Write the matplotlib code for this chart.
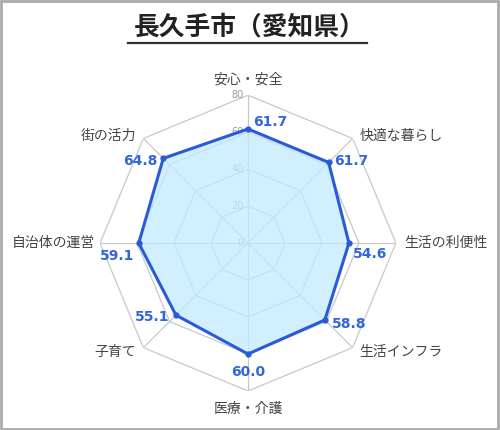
import numpy as np
import matplotlib.pyplot as plt
from matplotlib.lines import Line2D
from matplotlib.patches import Rectangle

plt.rcParams['font.family'] = ['Noto Sans CJK JP', 'DejaVu Sans']

title = '長久手市（愛知県）'
categories = ['安心・安全', '快適な暮らし', '生活の利便性', '生活インフラ',
              '医療・介護', '子育て', '自治体の運営', '街の活力']
scores = [61.7, 61.7, 54.6, 58.8, 60.0, 55.1, 59.1, 64.8]
grid_levels = [20, 40, 60, 80]
tick_labels = ['0', '20', '40', '60', '80']
r_max = 80

n = len(categories)
angles = np.arange(n) * 2 * np.pi / n

fig = plt.figure(figsize=(5, 4.3), dpi=100)
ax = fig.add_axes([0.2, 0.0907, 0.592, 0.688], projection='polar')
ax.set_theta_offset(np.pi / 2)
ax.set_theta_direction(-1)
ax.set_ylim(0, r_max)
ax.grid(False)
ax.spines['polar'].set_visible(False)
ax.set_xticks([])
ax.set_yticks([])
ax.patch.set_alpha(0)

# octagon grid and spokes
closed = np.append(angles, angles[0])
for lvl in grid_levels:
    ax.plot(closed, [lvl] * (n + 1), color='#c8c8c8', lw=0.9, zorder=1)
for a in angles:
    ax.plot([a, a], [0, r_max], color='#c8c8c8', lw=0.9, zorder=1)

# tick labels along the top spoke
for i, t in enumerate(tick_labels):
    ax.annotate(t, xy=(0, i * 20), xytext=(-3, 0), textcoords='offset points',
                ha='right', va='center', fontsize=7, color='#999999',
                family='DejaVu Sans', zorder=2)

# data polygon
vals = np.append(scores, scores[0])
ax.fill(closed, vals, color='#c2eaff', alpha=0.75, zorder=2)
ax.plot(closed, vals, color='#2a5bd7', lw=2.2, zorder=3)
ax.plot(angles, scores, 'o', color='#2a5bd7', ms=3.5, zorder=4)

# value labels
val_offsets = [(4, 5, 'left', 'center'), (4, 1, 'left', 'center'),
               (3, -8, 'left', 'center'), (5, -3, 'left', 'center'),
               (0, -8, 'center', 'top'), (-5, -1, 'right', 'center'),
               (-3, -9, 'right', 'center'), (-4, -2, 'right', 'center')]
for a, v, (dx, dy, ha, va) in zip(angles, scores, val_offsets):
    ax.annotate(f'{v:.1f}', xy=(a, v), xytext=(dx, dy), textcoords='offset points',
                ha=ha, va=va, fontsize=10, fontweight='bold', color='#3366dd',
                family='DejaVu Sans', zorder=5)

# category labels
cat_offsets = [(0, 6, 'center', 'bottom'), (5, 2, 'left', 'center'),
               (6, 0, 'left', 'center'), (5, -3, 'left', 'center'),
               (0, -8, 'center', 'top'), (-5, -3, 'right', 'center'),
               (-4, 0, 'right', 'center'), (-5, 2, 'right', 'center')]
for a, c, (dx, dy, ha, va) in zip(angles, categories, cat_offsets):
    ax.annotate(c, xy=(a, r_max), xytext=(dx, dy), textcoords='offset points',
                ha=ha, va=va, fontsize=10, color='#444444')

# title with underline
fig.text(0.5, 0.937, title, ha='center', va='center', fontsize=18.5,
         fontweight='bold', color='#222222')
fig.add_artist(Line2D([0.256, 0.734], [0.899, 0.899], color='#333333', lw=1.6,
                      transform=fig.transFigure))

# frame
fig.add_artist(Rectangle((0.002, 0.003), 0.994, 0.994, fill=False,
                         edgecolor='#aaaaaa', lw=2, transform=fig.transFigure))

fig.savefig('out.png', dpi=100)
